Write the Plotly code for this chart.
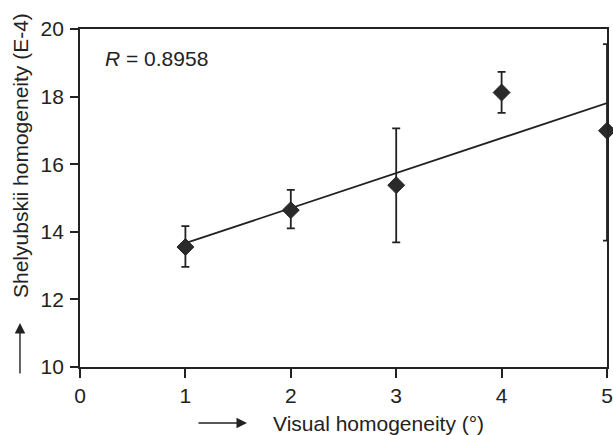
import numpy as np
import plotly.graph_objects as go

visual = [1, 2, 3, 4, 5]
shelyubskii = [13.55, 14.64, 15.38, 18.12, 16.99]
err_plus = [0.62, 0.60, 1.68, 0.61, 2.56]
err_minus = [0.59, 0.54, 1.69, 0.60, 3.25]
x_ticks = [0, 1, 2, 3, 4, 5]
y_ticks = [10, 12, 14, 16, 18, 20]
r_label = "<i>R</i> = 0.8958"

slope, intercept = np.polyfit(visual, shelyubskii, 1)
fit_x = [visual[0], visual[-1]]
fit_y = [slope * v + intercept for v in fit_x]

ink = "#222222"
font = "Liberation Sans, Arial, sans-serif"

fig = go.Figure()
fig.add_trace(go.Scatter(x=fit_x, y=fit_y, mode="lines",
                         line=dict(color=ink, width=1.8), hoverinfo="skip",
                         cliponaxis=False))
fig.add_trace(go.Scatter(
    x=visual, y=shelyubskii, mode="markers",
    marker=dict(symbol="diamond", size=13, color="#2a2a2a",
                line=dict(color=ink, width=1)),
    error_y=dict(type="data", array=err_plus, arrayminus=err_minus,
                 color=ink, thickness=1.8, width=4, visible=True),
    cliponaxis=False))

fig.update_layout(
    width=613, height=435,
    margin=dict(l=80, r=6, t=29, b=68, autoexpand=False),
    paper_bgcolor="white", plot_bgcolor="white",
    showlegend=False,
    font=dict(family=font, size=20, color=ink),
    xaxis=dict(range=[0, 5], tickvals=x_ticks, showgrid=False, zeroline=False,
               automargin=False,
               showline=True, linecolor=ink, linewidth=1.8, mirror=True,
               ticks="outside", ticklen=9, tickwidth=1.8, tickcolor=ink,
               tickfont=dict(size=21, color=ink, family=font)),
    yaxis=dict(range=[10, 20], tickvals=y_ticks, showgrid=False, zeroline=False,
               automargin=False,
               showline=True, linecolor=ink, linewidth=1.8, mirror=True,
               ticks="outside", ticklen=8, tickwidth=1.8, tickcolor=ink,
               ticklabelstandoff=2,
               tickfont=dict(size=21, color=ink, family=font)),
    annotations=[
        dict(text=r_label, xref="paper", yref="paper", x=0.0436, y=0.914,
             xanchor="left", yanchor="middle", showarrow=False,
             font=dict(size=21, color=ink, family=font)),
        dict(text="Visual homogeneity (°)", xref="paper", yref="paper",
             x=0.5664, y=-0.1657, xanchor="center", yanchor="middle",
             showarrow=False, font=dict(size=21, color=ink, family=font)),
        dict(text="Shelyubskii homogeneity (E-4)", xref="paper", yref="paper",
             x=-0.114, y=0.627, xanchor="center", yanchor="middle",
             textangle=-90, showarrow=False,
             font=dict(size=21, color=ink, family=font)),
        dict(text="", xref="paper", yref="paper", x=0.3169, y=-0.1657,
             ax=-50, ay=0, showarrow=True, arrowhead=2, arrowsize=1.5,
             arrowwidth=1.4, arrowcolor=ink),
        dict(text="", xref="paper", yref="paper", x=-0.1139, y=0.130,
             ax=0, ay=52, showarrow=True, arrowhead=2, arrowsize=1.5,
             arrowwidth=1.4, arrowcolor=ink),
    ],
)

fig.write_html("out.html")
